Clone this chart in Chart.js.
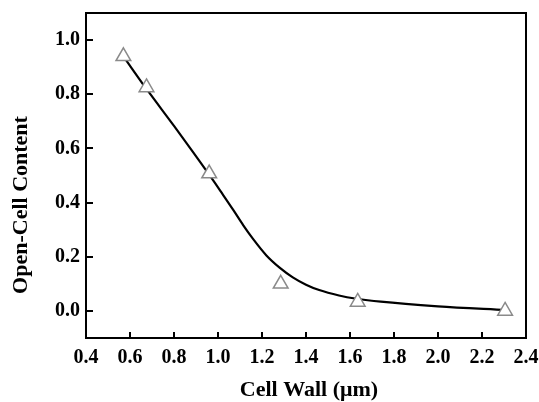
<!DOCTYPE html>
<html>
<head>
<meta charset="utf-8">
<script src="https://cdn.jsdelivr.net/npm/chart.js@4.4.0/dist/chart.umd.min.js"></script>
<style>
html,body{margin:0;padding:0;background:#fff;}
#wrap{width:539px;height:402px;position:relative;}
</style>
</head>
<body>
<div id="wrap"><canvas id="c" width="539" height="402"></canvas></div>
<script>
// measured data points
const cellWall = [0.57, 0.675, 0.96, 1.285, 1.635, 2.305];
const openCell = [0.94, 0.825, 0.507, 0.10, 0.033, 0.0];
// fitted curve
const curveX = [0.57, 0.67, 0.80, 0.88, 0.96, 1.02, 1.07, 1.115, 1.16, 1.22, 1.28, 1.34, 1.40, 1.46, 1.55, 1.63, 1.74, 2.00, 2.31];
const curveY = [0.94, 0.825, 0.683, 0.594, 0.503, 0.432, 0.372, 0.316, 0.265, 0.205, 0.160, 0.124, 0.097, 0.077, 0.057, 0.045, 0.034, 0.017, 0.003];
// ticks
const xTicks = [0.4, 0.6, 0.8, 1.0, 1.2, 1.4, 1.6, 1.8, 2.0, 2.2, 2.4];
const yTicks = [0.0, 0.2, 0.4, 0.6, 0.8, 1.0];
const xTitle = 'Cell Wall (\u03bcm)';
const yTitle = 'Open-Cell Content';

const FONT = "'Liberation Serif', 'Times New Roman', serif";

const framePlugin = {
  id: 'frame',
  afterDatasetsDraw(chart) {
    const ctx = chart.ctx, a = chart.chartArea;
    const xs = chart.scales.x, ys = chart.scales.y;
    ctx.save();
    ctx.strokeStyle = '#000';
    ctx.lineWidth = 2;
    ctx.strokeRect(a.left, a.top, a.right - a.left, a.bottom - a.top);
    ctx.beginPath();
    xTicks.forEach(v => {
      const px = Math.round(xs.getPixelForValue(v));
      ctx.moveTo(px, a.bottom);
      ctx.lineTo(px, a.bottom - 6);
    });
    yTicks.forEach(v => {
      const py = Math.round(ys.getPixelForValue(v));
      ctx.moveTo(a.left, py);
      ctx.lineTo(a.left + 7, py);
    });
    ctx.stroke();
    // axis titles
    ctx.fillStyle = '#000';
    ctx.font = "bold 22px " + FONT;
    ctx.textAlign = 'center';
    ctx.textBaseline = 'middle';
    ctx.fillText(xTitle, (a.left + a.right) / 2 + 3, 390);
    ctx.translate(21, 205);
    ctx.rotate(-Math.PI / 2);
    ctx.fillText(yTitle, 0, 0);
    ctx.restore();
  }
};

new Chart(document.getElementById('c'), {
  type: 'scatter',
  data: {
    datasets: [
      {
        data: cellWall.map((x, i) => ({x: x, y: openCell[i]})),
        pointStyle: 'triangle',
        pointRadius: 8.5,
        pointBorderColor: '#8a8a8a',
        pointBackgroundColor: '#ffffff',
        pointBorderWidth: 1.5,
        showLine: false
      },
      {
        data: curveX.map((x, i) => ({x: x, y: curveY[i]})),
        showLine: true,
        borderColor: '#000',
        borderWidth: 2.2,
        pointRadius: 0,
        cubicInterpolationMode: 'monotone',
        fill: false
      }
    ]
  },
  options: {
    responsive: false,
    animation: false,
    devicePixelRatio: 1,
    layout: {padding: {left: 0, right: 13, top: 13, bottom: 0}},
    plugins: {legend: {display: false}, tooltip: {enabled: false}},
    scales: {
      x: {
        type: 'linear', min: 0.4, max: 2.4,
        afterBuildTicks: s => { s.ticks = xTicks.map(v => ({value: v})); },
        afterFit: s => { s.height = 64; s.paddingLeft = 0; s.paddingRight = 0; },
        grid: {display: false, drawTicks: false},
        border: {display: false},
        ticks: {
          padding: 8, color: '#000',
          font: {family: FONT, size: 20, weight: 'bold'},
          callback: v => Number(v).toFixed(1),
          maxRotation: 0, autoSkip: false
        }
      },
      y: {
        type: 'linear', min: -0.1, max: 1.1,
        afterBuildTicks: s => { s.ticks = yTicks.map(v => ({value: v})); },
        afterFit: s => { s.width = 86; s.paddingTop = 0; s.paddingBottom = 0; },
        grid: {display: false, drawTicks: false},
        border: {display: false},
        ticks: {
          padding: 6, color: '#000',
          font: {family: FONT, size: 20, weight: 'bold'},
          callback: v => Number(v).toFixed(1),
          autoSkip: false
        }
      }
    }
  },
  plugins: [framePlugin]
});
</script>
</body>
</html>
